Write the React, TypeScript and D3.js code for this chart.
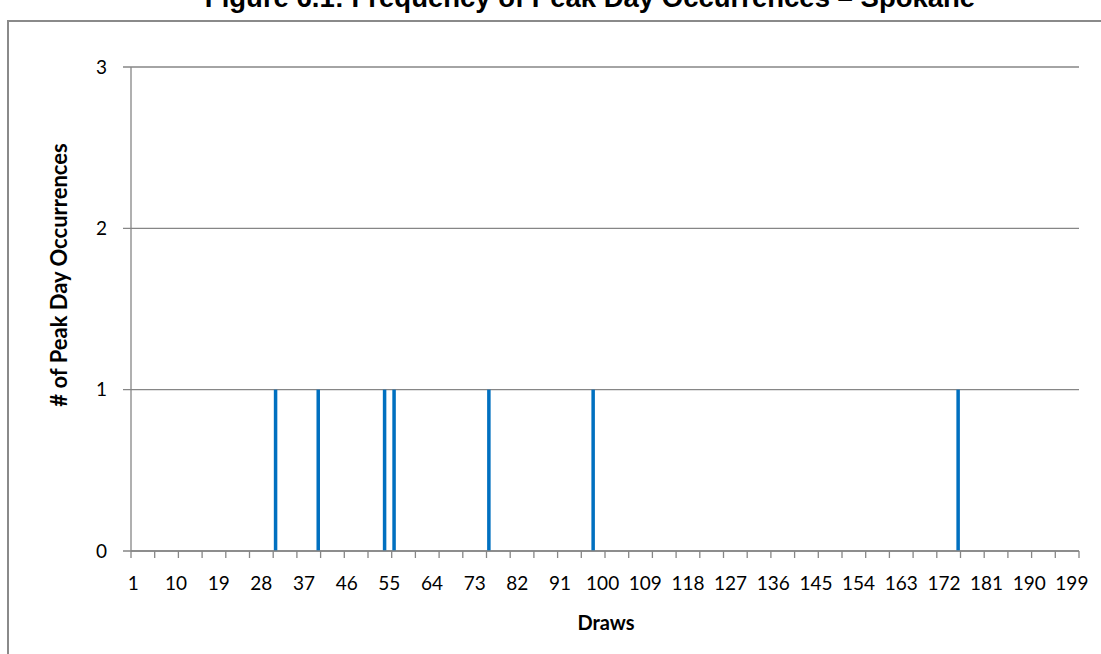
import React from "react";
import * as d3 from "d3";

const chartTitle = "Figure 6.1: Frequency of Peak Day Occurrences – Spokane";
const xAxisTitle = "Draws";
const yAxisTitle = "# of Peak Day Occurrences";

// category axis: draws 1..200
const drawCategories: number[] = d3.range(1, 201);
// draws with a peak day occurrence and their counts
const peakDraws: number[] = [31, 40, 54, 56, 76, 98, 175];
const peakCounts: number[] = [1, 1, 1, 1, 1, 1, 1];
const xTickLabels: number[] = [1, 10, 19, 28, 37, 46, 55, 64, 73, 82, 91, 100, 109, 118, 127, 136, 145, 154, 163, 172, 181, 190, 199];
const yTicks: number[] = [0, 1, 2, 3];

const W = 1101;
const H = 654;
const plot = { left: 131, right: 1079, top: 67, bottom: 551 };
const font = "Lato, 'Open Sans', sans-serif";
const gridColor = "#868686";
const barColor = "#0070C0";

export default function App() {
  const x = d3
    .scaleBand<number>()
    .domain(drawCategories)
    .range([plot.left, plot.right])
    .paddingInner(0.26)
    .paddingOuter(0.13);
  const xEdge = d3
    .scaleLinear()
    .domain([0, drawCategories.length])
    .range([plot.left, plot.right]);
  const y = d3.scaleLinear().domain([0, 3]).range([plot.bottom, plot.top]);

  const tickEdges = d3.range(0, drawCategories.length + 1, 5);

  return (
    <svg
      width={W}
      height={H}
      style={{ position: "absolute", left: 0, top: 0, background: "#fff" }}
    >
      <rect x={8} y={21} width={1200} height={700} fill="#fff" stroke="#8a8a8a" strokeWidth={2} />
      <text
        x={590}
        y={7}
        textAnchor="middle"
        fontFamily="'Liberation Sans', Arial, sans-serif"
        fontWeight="bold"
        fontSize={27.5}
        fill="#000"
      >
        {chartTitle}
      </text>

      {/* gridlines + y ticks */}
      {yTicks.map((t) => (
        <g key={t}>
          <line
            x1={plot.left - 8}
            x2={plot.right}
            y1={y(t)}
            y2={y(t)}
            stroke={gridColor}
            strokeWidth={1.3}
          />
          <text
            x={107}
            y={y(t)}
            dy="0.35em"
            textAnchor="end"
            fontFamily={font}
            fontSize={19}
            fill="#000"
          >
            {t}
          </text>
        </g>
      ))}
      {/* y axis line */}
      <line x1={plot.left} x2={plot.left} y1={plot.top} y2={plot.bottom} stroke={gridColor} strokeWidth={1.3} />

      {/* bars */}
      {peakDraws.map((d, i) => (
        <rect
          key={d}
          x={x(d)}
          y={y(peakCounts[i])}
          width={x.bandwidth()}
          height={y(0) - y(peakCounts[i])}
          fill={barColor}
        />
      ))}

      {/* x axis */}
      <line x1={plot.left} x2={plot.right} y1={plot.bottom} y2={plot.bottom} stroke={gridColor} strokeWidth={1.3} />
      {tickEdges.map((e) => (
        <line
          key={e}
          x1={xEdge(e)}
          x2={xEdge(e)}
          y1={plot.bottom}
          y2={plot.bottom + 7}
          stroke={gridColor}
          strokeWidth={1.3}
        />
      ))}
      {xTickLabels.map((l) => (
        <text
          key={l}
          x={(x(l) as number) + x.bandwidth() / 2}
          y={590}
          textAnchor="middle"
          fontFamily={font}
          fontSize={19}
          fill="#000"
        >
          {l}
        </text>
      ))}
      <text
        x={606}
        y={630}
        textAnchor="middle"
        fontFamily={font}
        fontWeight="bold"
        fontSize={20}
        fill="#000"
      >
        {xAxisTitle}
      </text>
      <text
        transform={`translate(67,275) rotate(-90)`}
        textAnchor="middle"
        fontFamily={font}
        fontWeight="bold"
        fontSize={22}
        fill="#000"
      >
        {yAxisTitle}
      </text>
    </svg>
  );
}
